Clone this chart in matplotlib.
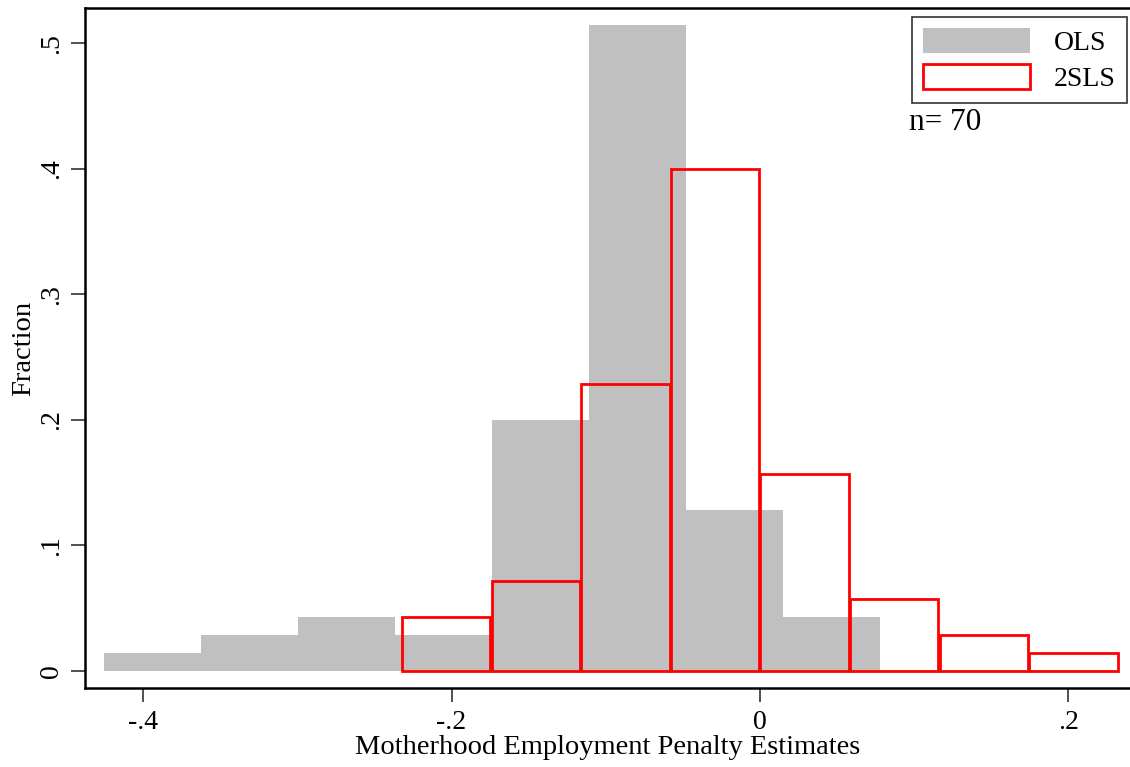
import matplotlib
matplotlib.use("Agg")
import matplotlib.pyplot as plt
from matplotlib.patches import Patch
import numpy as np

plt.rcParams['font.family'] = ['Liberation Serif', 'DejaVu Serif']

n_obs = 70

# OLS estimates: bin edges and counts per bin
ols_start = -0.4255
ols_width = 0.0629
ols_counts = [1, 2, 3, 2, 14, 36, 9, 3]

# 2SLS estimates: bin edges and counts per bin
tsls_start = -0.2325
tsls_width = 0.0581
tsls_counts = [3, 5, 16, 28, 11, 4, 2, 1]

ols_frac = np.array(ols_counts) / n_obs
tsls_frac = np.array(tsls_counts) / n_obs
ols_left = ols_start + ols_width * np.arange(len(ols_counts))
tsls_left = tsls_start + tsls_width * np.arange(len(tsls_counts))

xticks = [-0.4, -0.2, 0.0, 0.2]
xtick_labels = ['-.4', '-.2', '0', '.2']
yticks = [0, 0.1, 0.2, 0.3, 0.4, 0.5]
ytick_labels = ['0', '.1', '.2', '.3', '.4', '.5']

fig = plt.figure(figsize=(11.3, 7.67), dpi=100)
ax = fig.add_axes([0.0752, 0.1030, 0.9248, 0.8866])

ax.bar(ols_left, ols_frac, width=ols_width, align='edge',
       color='#c0c0c0', edgecolor='none', zorder=1)
gap = 0.0008
ax.bar(tsls_left + gap / 2, tsls_frac, width=tsls_width - gap, align='edge',
       facecolor='none', edgecolor='#ff0000', linewidth=2.0, zorder=2)

ax.set_xlim(-0.4377, 0.2400)
ax.set_ylim(-0.0135, 0.528)

ax.set_xticks(xticks)
ax.set_xticklabels(xtick_labels, fontsize=20)
ax.set_yticks(yticks)
ax.set_yticklabels(ytick_labels, fontsize=20, rotation=90, va='center')
ax.tick_params(axis='both', direction='out', length=10, width=1.2, colors='#333333',
               labelcolor='black')
ax.tick_params(axis='y', pad=5)
ax.tick_params(axis='x', pad=6)

for side in ['left', 'bottom', 'top']:
    ax.spines[side].set_linewidth(1.8)
    ax.spines[side].set_color('black')
ax.spines['right'].set_visible(False)

ax.set_xlabel('Motherhood Employment Penalty Estimates', fontsize=20.5, labelpad=0)
ax.set_ylabel('Fraction', fontsize=20.5, labelpad=2)

handles = [Patch(facecolor='#c0c0c0', edgecolor='none', label='OLS'),
           Patch(facecolor='white', edgecolor='#ff0000', linewidth=2.0, label='2SLS')]
leg = ax.legend(handles=handles, loc='upper right',
                bbox_to_anchor=(1127 / 1130, 1 - 17 / 767),
                bbox_transform=fig.transFigure,
                fontsize=20, frameon=True, fancybox=False,
                handlelength=3.85, handleheight=1.0, handletextpad=0.85,
                borderpad=0.4, labelspacing=0.3, borderaxespad=0)
leg.get_frame().set_edgecolor('black')
leg.get_frame().set_linewidth(1.2)

fig.text(909 / 1130, 1 - 123 / 767, 'n= 70', fontsize=22.5, ha='left', va='center')

fig.savefig('out.png', dpi=100)
